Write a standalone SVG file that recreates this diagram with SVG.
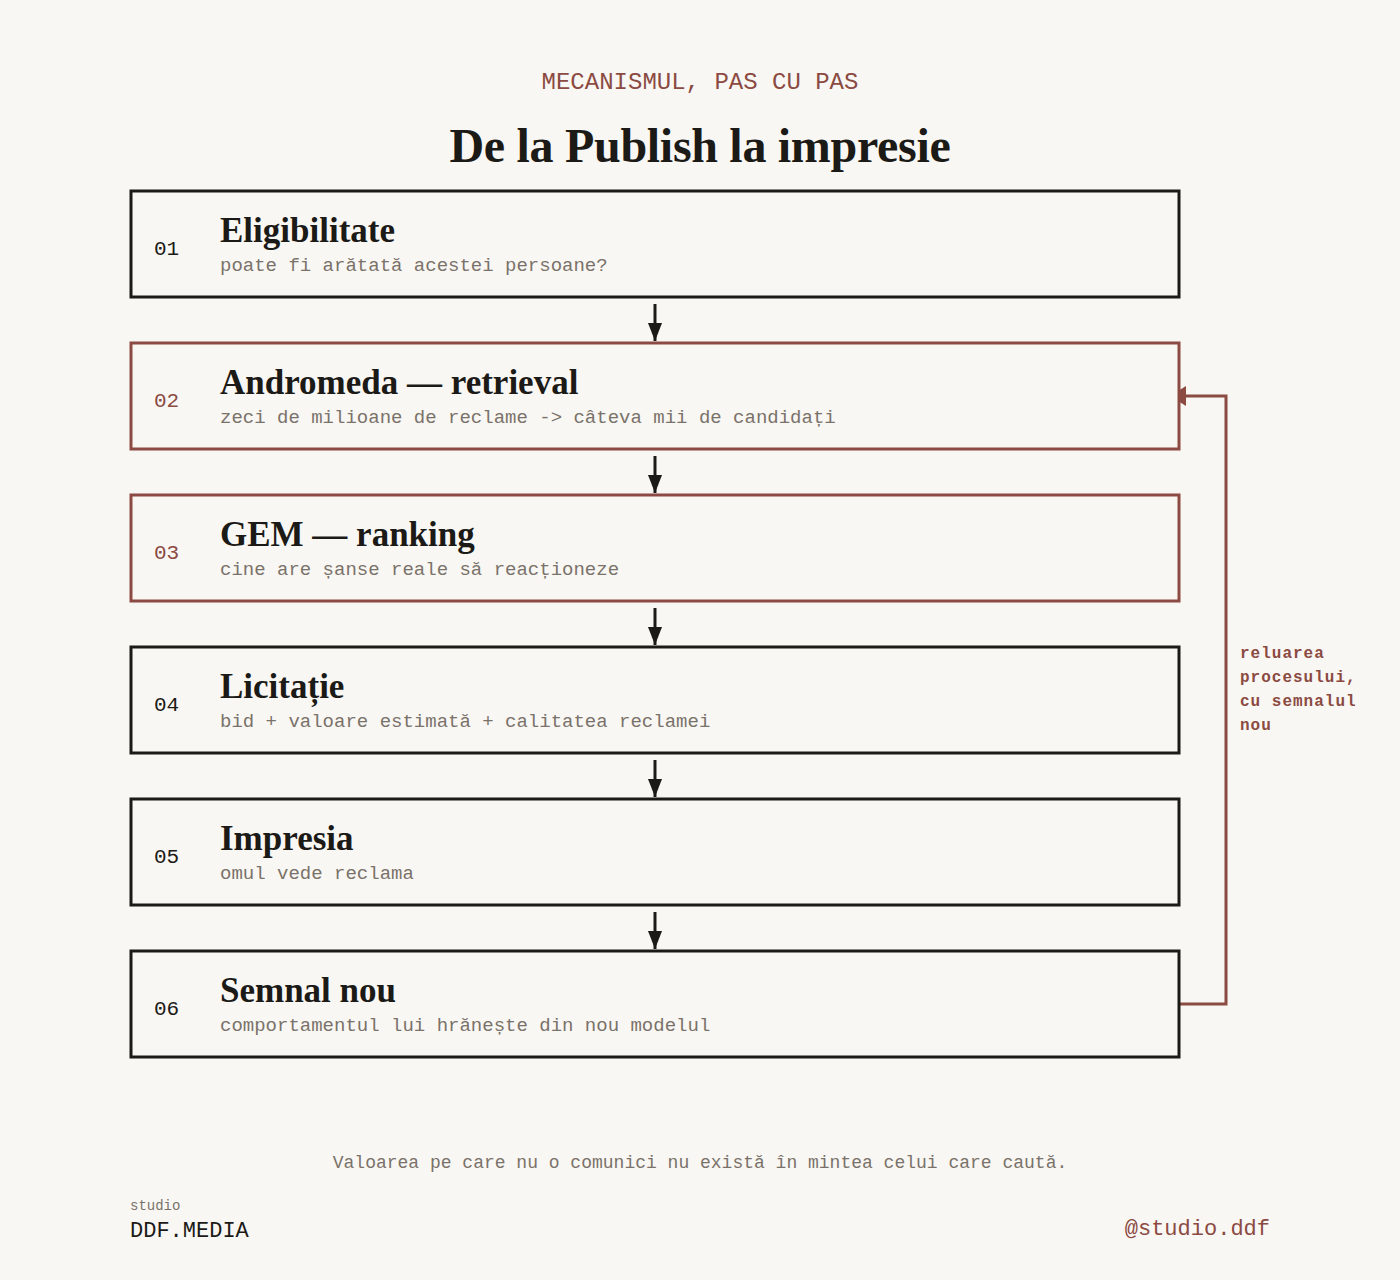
<svg xmlns="http://www.w3.org/2000/svg" width="1400" height="1280" viewBox="0 0 1400 1280">
<defs>
<style>
.mono{font-family:"Liberation Mono","DejaVu Sans Mono",monospace;}
.serif{font-family:"Liberation Serif","DejaVu Serif",serif;font-weight:bold;}
.box{fill:#F9F7F3;stroke:#1C1A17;stroke-width:3;}
.box.acc{stroke:#8B4A42;}
.num{font-size:21px;fill:#1C1A17;}
.num.acc{fill:#8B4A42;}
.ttl{font-size:35px;fill:#1C1A17;}
.sub{font-size:19px;fill:#7A726A;}
.conn{stroke:#1C1A17;stroke-width:3;fill:none;}
.fb{stroke:#8B4A42;stroke-width:3;fill:none;}
</style>
<marker id="ah" viewBox="0 0 18 14" refX="18" refY="7" markerWidth="18" markerHeight="14" markerUnits="userSpaceOnUse" orient="auto">
<path d="M0,0 L18,7 L0,14 Z" fill="#1C1A17"/>
</marker>
<marker id="ahr" viewBox="0 0 16 20" refX="16" refY="10" markerWidth="16" markerHeight="20" markerUnits="userSpaceOnUse" orient="auto">
<path d="M0,0 L16,10 L0,20 Z" fill="#8B4A42"/>
</marker>
</defs>
<rect width="1400" height="1280" fill="#F9F7F3"/>
<text class="mono" x="700" y="89" text-anchor="middle" font-size="24" fill="#8B4A42">MECANISMUL, PAS CU PAS</text>
<text class="serif" x="700" y="162" text-anchor="middle" font-size="48" fill="#1C1A17" letter-spacing="-0.3">De la Publish la impresie</text>

<g id="connectors">
<line class="conn" x1="655" y1="304" x2="655" y2="341" marker-end="url(#ah)"/>
<line class="conn" x1="655" y1="456" x2="655" y2="493" marker-end="url(#ah)"/>
<line class="conn" x1="655" y1="608" x2="655" y2="645" marker-end="url(#ah)"/>
<line class="conn" x1="655" y1="760" x2="655" y2="797" marker-end="url(#ah)"/>
<line class="conn" x1="655" y1="912" x2="655" y2="949" marker-end="url(#ah)"/>
<path class="fb" d="M1180,1004 H1226 V396 H1170" marker-end="url(#ahr)"/>
<text class="mono" font-size="16" font-weight="bold" fill="#8B4A42" letter-spacing="1">
<tspan x="1240" y="658">reluarea</tspan>
<tspan x="1240" y="682">procesului,</tspan>
<tspan x="1240" y="706">cu semnalul</tspan>
<tspan x="1240" y="730">nou</tspan>
</text>
</g>

<g id="n01">
<rect class="box" x="131" y="191" width="1048" height="106"/>
<text class="mono num" x="154" y="255">01</text>
<text class="serif ttl" x="220" y="242">Eligibilitate</text>
<text class="mono sub" x="220" y="271">poate fi arătată acestei persoane?</text>
</g>
<g id="n02">
<rect class="box acc" x="131" y="343" width="1048" height="106"/>
<text class="mono num acc" x="154" y="407">02</text>
<text class="serif ttl" x="220" y="394">Andromeda — retrieval</text>
<text class="mono sub" x="220" y="423">zeci de milioane de reclame -&gt; câteva mii de candidați</text>
</g>
<g id="n03">
<rect class="box acc" x="131" y="495" width="1048" height="106"/>
<text class="mono num acc" x="154" y="559">03</text>
<text class="serif ttl" x="220" y="546">GEM — ranking</text>
<text class="mono sub" x="220" y="575">cine are șanse reale să reacționeze</text>
</g>
<g id="n04">
<rect class="box" x="131" y="647" width="1048" height="106"/>
<text class="mono num" x="154" y="711">04</text>
<text class="serif ttl" x="220" y="698">Licitație</text>
<text class="mono sub" x="220" y="727">bid + valoare estimată + calitatea reclamei</text>
</g>
<g id="n05">
<rect class="box" x="131" y="799" width="1048" height="106"/>
<text class="mono num" x="154" y="863">05</text>
<text class="serif ttl" x="220" y="850">Impresia</text>
<text class="mono sub" x="220" y="879">omul vede reclama</text>
</g>
<g id="n06">
<rect class="box" x="131" y="951" width="1048" height="106"/>
<text class="mono num" x="154" y="1015">06</text>
<text class="serif ttl" x="220" y="1002">Semnal nou</text>
<text class="mono sub" x="220" y="1031">comportamentul lui hrănește din nou modelul</text>
</g>

<text class="mono" x="700" y="1168" text-anchor="middle" font-size="18" fill="#7A726A">Valoarea pe care nu o comunici nu există în mintea celui care caută.</text>
<text class="mono" x="130" y="1210" font-size="14" fill="#7A726A">studio</text>
<text class="mono" x="130" y="1237" font-size="22" fill="#1C1A17">DDF.MEDIA</text>
<text class="mono" x="1270" y="1235" text-anchor="end" font-size="22" fill="#8B4A42">@studio.ddf</text>
</svg>
